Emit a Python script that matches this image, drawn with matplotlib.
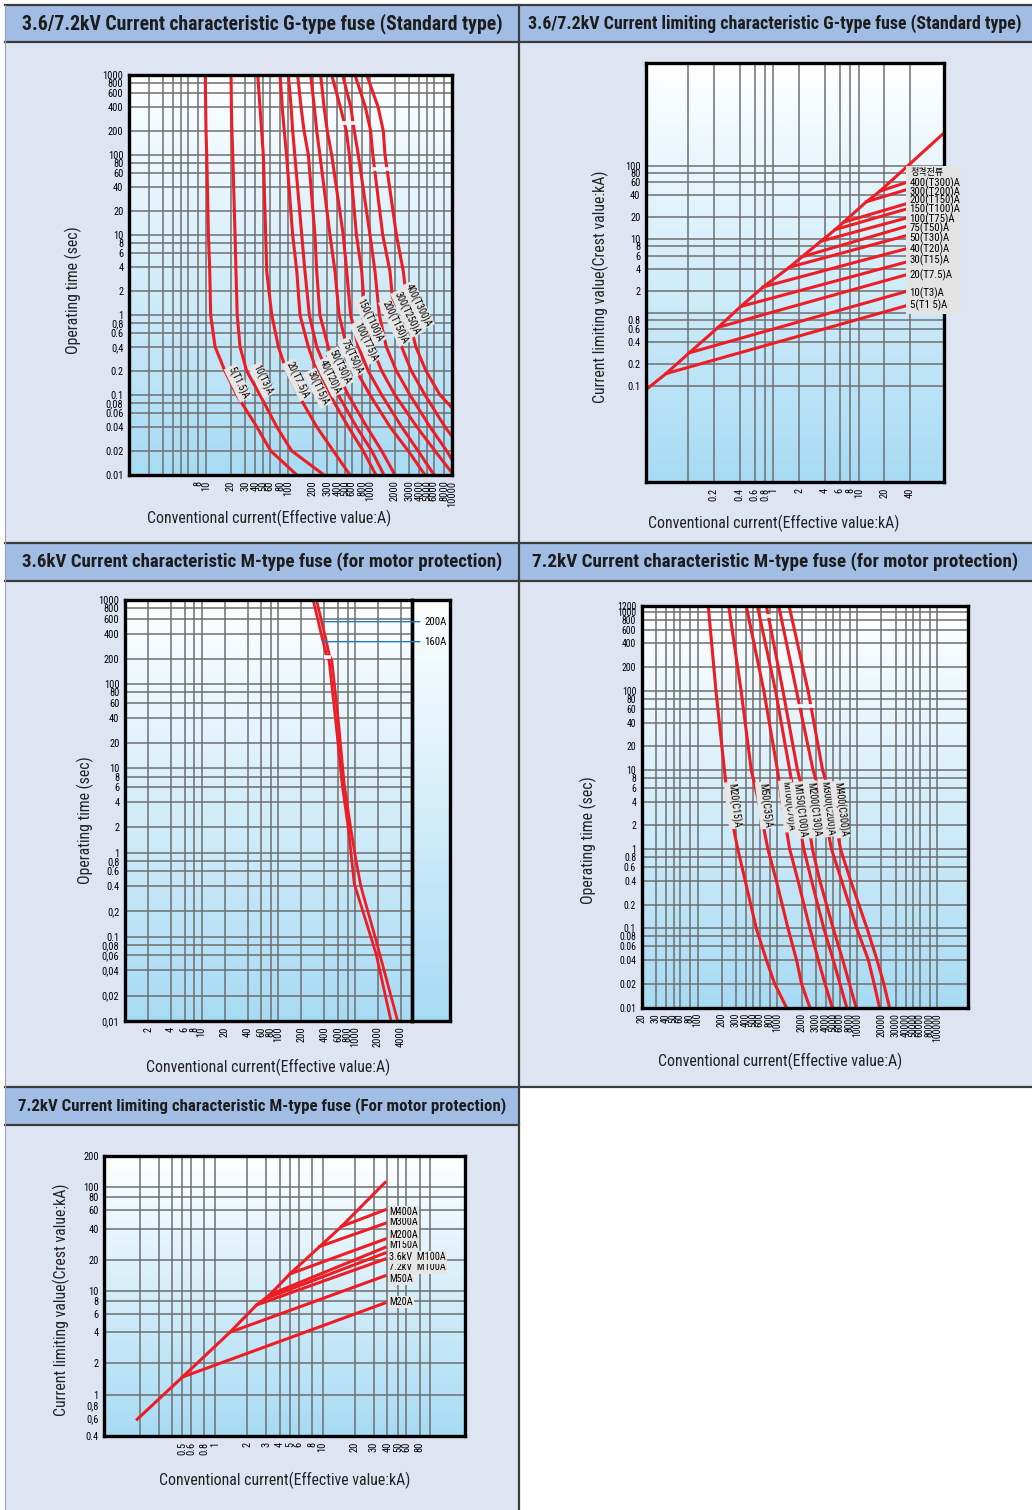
import numpy as np
import matplotlib
matplotlib.use('Agg')
import matplotlib.pyplot as plt
import matplotlib.transforms as mtransforms
from matplotlib.patches import Rectangle
from matplotlib.lines import Line2D
from matplotlib.ticker import NullFormatter
from matplotlib.colors import LinearSegmentedColormap

W, H = 1032, 1510
NARROW = ['Liberation Sans Narrow', 'Roboto Condensed', 'DejaVu Sans']
plt.rcParams['font.family'] = NARROW
RED = '#ee1d25'
GRID = '#6f6f6f'
PANEL = '#dfe4f3'
HEAD = '#a2bde4'
EDGE = '#3c3c3c'
BLUE = '#1f78c8'
TAG = '#e6e6e6'

# ---------------- panel 1 : G-type time-current ----------------
g_time = [1000, 400, 200, 100, 10, 3.5, 1, 0.4, 0.2, 0.1, 0.04, 0.02, 0.01]
g_names = ['5(T1.5)A', '10(T3)A', '20(T7.5)A', '30(T15)A', '40(T20)A', '50(T30)A',
           '75(T50)A', '100(T75)A', '150(T100)A', '200(T150)A', '300(T250)A', '400(T300)A']
g5 = [9.8, 9.9, 10.0, 10.2, 10.7, 11.1, 11.4, 12.9, 17, 23.7, 41.6, 61.6, 128]
g10 = [20.2, 20.4, 20.7, 21.2, 22.6, 23.2, 24, 26, 31.3, 45.5, 72.9, 111, 275]
g20 = [42.7, 45.5, 47.7, 50, 53.4, 55, 63.4, 76.3, 96, 134, 224, 357, 570]
g30 = [80, 85, 90, 96, 114, 128, 140, 177, 224, 325, 543, 827, 1180]
g40 = [101, 109, 114, 121, 147, 161, 182, 224, 296, 410, 683, 1050, 1480]
g50 = [131, 144, 157, 177, 213, 224, 245, 309, 392, 543, 912, 1390, 2017]
g75 = [189, 209, 224, 245, 325, 374, 420, 520, 683, 1000, 1753, 2930, 4683]
g100 = [250, 275, 301, 341, 472, 520, 580, 720, 950, 1390, 2430, 3860, 6040]
g150 = [341, 434, 514, 560, 683, 792, 868, 1050, 1390, 2017, 3720, 6200, 10500]
g200 = [464, 582, 644, 720, 1000, 1150, 1300, 1580, 2100, 3070, 5390, 8620, 13000]
g300 = [656, 877, 1018, 1083, 1430, 1753, 1960, 2430, 3190, 4683, 8210, 13500, 20000]
g400 = [912, 1254, 1453, 1523, 2100, 2550, 2930, 3620, 4820, 7140, 16500, 25000, 38000]
g_label_x = [24.6, 48.2, 129, 232, 325, 431, 603, 871, 1000, 2018, 2827, 3845]
g_label_y = [0.141, 0.154, 0.154, 0.122, 0.168, 0.224, 0.30, 0.46, 0.866, 0.818, 1.06, 1.33]
# white break marks drawn across some curves (curve index, time)
g_breaks = [(8, 250), (9, 250), (10, 67), (11, 67)]

# ---------------- panel 2 : G-type current limiting ----------------
gl_env_x = [0.032, 0.055, 0.103, 0.225, 0.413, 0.763, 1.54, 2.16, 3.61, 5.32, 6.66, 12.3, 17.7, 100]
gl_env_y = [0.09, 0.149, 0.286, 0.635, 1.22, 2.26, 4.17, 5.78, 9.42, 13.6, 17.1, 32.4, 45.1, 280]
gl_end_x = 37
gl_end_y = [1.26, 1.97, 3.32, 4.94, 7.5, 11.3, 15.1, 19.6, 26, 30.7, 47.6, 59.8]
gl_names = ['5(T1 5)A', '10(T3)A', '20(T7.5)A', '30(T15)A', '40(T20)A', '50(T30)A',
            '75(T50)A', '100(T75)A', '150(T100)A', '200(T150)A', '300(T200)A', '400(T300)A']
gl_label_y = [1.26, 1.83, 3.22, 5.2, 7.43, 10.2, 14.0, 19.0, 25.4, 34.0, 44.3, 58.7]

# ---------------- panel 3 : 3.6kV M-type time-current ----------------
m36_160_i = [285, 377, 425, 461, 565, 680, 825, 979, 1884, 2955]
m36_160_t = [1000, 341, 226, 188, 34.7, 6.5, 1.86, 0.43, 0.063, 0.01]
m36_200_i = [315, 418, 461, 500, 611, 724, 887, 1030, 1197, 1884, 3605]
m36_200_t = [1000, 341, 226, 188, 34.7, 6.5, 1.86, 0.82, 0.394, 0.091, 0.01]
m36_names = ['200A', '160A']
m36_lead_i = 377
m36_lead_t = [553, 320]
m36_break_t = 210

# ---------------- panel 4 : 7.2kV M-type time-current ----------------
m72_time = [1200, 100, 10, 4.3, 1, 0.4, 0.1, 0.04, 0.02, 0.01]
m72_names = ['M20(C15)A', 'M50(C35)A', 'M100(C70)A', 'M150(C100)A',
             'M200(C130)A', 'M300(C200)A', 'M400(C300)A']
m20 = [136, 170, 217, 238, 319, 395, 543, 725, 922, 1294]
m50 = [245, 351, 470, 570, 760, 968, 1355, 1730, 2000, 2540]
m100 = [406, 676, 1000, 1119, 1422, 1810, 2540, 3240, 3930, 4850]
m150 = [559, 948, 1422, 1645, 2140, 2670, 3800, 4980, 6050, 7350]
m200 = [725, 1172, 1780, 2200, 2740, 3390, 4980, 6550, 7940, 9640]
m300 = [1035, 1730, 2790, 3560, 4750, 6350, 9820, 13700, 16200, 18900]
m400 = [1396, 2420, 3670, 4750, 6160, 8240, 13200, 17600, 21400, 25200]
m72_label_x = [281, 690, 1355, 1900, 2800, 4220, 6050]
m72_label_y = [3.6, 3.6, 3.53, 3.12, 3.2, 3.3, 3.2]
m72_breaks = [(4, 900), (5, 65), (6, 65)]

# ---------------- panel 5 : M-type current limiting ----------------
ml_env_x = [0.19, 0.5, 1.38, 2.44, 2.91, 3.24, 4.97, 9.44, 15, 38]
ml_env_y = [0.58, 1.48, 4.0, 7.33, 8.4, 9.2, 14.6, 26.9, 41.9, 111]
ml_end_x = 38
ml_end_y = [7.67, 14, 20.3, 23.2, 26.3, 31.6, 44.8, 60.5]
ml_names = ['M20A', 'M50A', '7.2kV  M100A', '3.6kV  M100A', 'M150A', 'M200A', 'M300A', 'M400A']
ml_label_y = [7.79, 13.0, 16.9, 21.1, 27.7, 34.5, 45.8, 57.9]

# ticks
t_vals = [0.01, 0.02, 0.04, 0.06, 0.08, 0.1, 0.2, 0.4, 0.6, 0.8, 1, 2, 4, 6, 8,
          10, 20, 40, 60, 80, 100, 200, 400, 600, 800, 1000]
t_txt_g = ['0.01', '0.02', '0.04', '0.06', '0,08', '0.1', '0.2', '0,4', '0.6', '0,8', '1', '2', '4', '6', '8',
           '10', '20', '40', '60', '80', '100', '200', '400', '600', '800', '1000']
t_txt_m = ['0,01', '0,02', '0,04', '0,06', '0,08', '0.1', '0,2', '0.4', '0.6', '0,8', '1', '2', '4', '6', '8',
           '10', '20', '40', '60', '80', '100', '200', '400', '600', '800', '1000']


def fmt(v):
    return ('%g' % v)


fig = plt.figure(figsize=(W / 100, H / 100), dpi=100, facecolor='white')
sky = LinearSegmentedColormap.from_list('sky', ['#ffffff', '#a7dbf4'])
grad = np.linspace(0, 1, 256).reshape(-1, 1)


def prect(l, t, r, b, color, z=0):
    fig.add_artist(Rectangle((l / W, 1 - b / H), (r - l) / W, (b - t) / H,
                             transform=fig.transFigure, fc=color, ec='none', zorder=z))


def pline(x1, y1, x2, y2, lw=1.6, color=EDGE):
    fig.add_artist(Line2D([x1 / W, x2 / W], [1 - y1 / H, 1 - y2 / H],
                          transform=fig.transFigure, color=color, lw=lw, zorder=0.5))


def ptext(x, y, s, **kw):
    fig.text(x / W, 1 - y / H, s, **kw)


def make_axes(l, t, r, b, z=2):
    rect = [l / W, 1 - b / H, (r - l) / W, (b - t) / H]
    ax = fig.add_axes(rect, zorder=z)
    ax.patch.set_alpha(0)
    return ax


def gradient(l, t, r, b):
    bg = fig.add_axes([l / W, 1 - b / H, (r - l) / W, (b - t) / H], zorder=1)
    bg.imshow(grad, aspect='auto', cmap=sky, extent=[0, 1, 0, 1])
    bg.axis('off')


def break_mark(ax, cur, times, t, f=1.09):
    # x of the curve at time t (log interpolation) and a short white cut across it
    lt = np.log10(times)[::-1]
    lx = np.log10(cur)[::-1]
    x = 10 ** np.interp(np.log10(t), lt, lx)
    ax.plot([x / f, x * f], [t, t], color='white', lw=2.6, solid_capstyle='butt', zorder=3)


def dress(ax, xlim, ylim, xt, xt_txt, xg, yt, yt_txt, yg, size=7.5):
    ax.set_xscale('log')
    ax.set_yscale('log')
    ax.set_xticks(xg, minor=True)
    ax.set_yticks(yg, minor=True)
    ax.set_xticks(xt, labels=xt_txt, rotation=90)
    ax.set_yticks(yt, labels=yt_txt)
    ax.xaxis.set_minor_formatter(NullFormatter())
    ax.yaxis.set_minor_formatter(NullFormatter())
    ax.xaxis.remove_overlapping_locs = False
    ax.yaxis.remove_overlapping_locs = False
    ax.set_xlim(xlim)
    ax.set_ylim(ylim)
    ax.grid(which='minor', color=GRID, lw=1.1)
    ax.set_axisbelow(True)
    ax.tick_params(which='both', length=0, labelsize=size, pad=4)
    for sp in ax.spines.values():
        sp.set_linewidth(2.4)
        sp.set_color('black')


# ---------- background frame ----------
prect(5, 5, 1032, 1510, PANEL)
prect(520, 1088, 1032, 1510, 'white')
for l, t, r, b in [(5, 5, 519, 42), (519, 5, 1032, 42), (5, 543, 519, 581),
                   (519, 543, 1032, 581), (5, 1087, 519, 1125)]:
    prect(l, t, r, b, HEAD)
pline(5, 5, 1032, 5)
pline(5, 42, 1032, 42)
pline(5, 543, 1032, 543)
pline(5, 581, 1032, 581)
pline(5, 1087, 1032, 1087)
pline(5, 1125, 519, 1125)
pline(519, 5, 519, 1510)
pline(5, 5, 5, 1510, lw=0.8, color='#9aa3b8')

heads = [(262, 24, '3.6/7.2kV Current characteristic G-type fuse (Standard type)', 14.2),
         (775, 24, '3.6/7.2kV Current limiting characteristic G-type fuse (Standard type)', 12.9),
         (262, 562, '3.6kV Current characteristic M-type fuse (for motor protection)', 13.6),
         (775, 562, '7.2kV Current characteristic M-type fuse (for motor protection)', 13.8),
         (262, 1106, '7.2kV Current limiting characteristic M-type fuse (For motor protection)', 12.2)]
for x, y, s, fs in heads:
    ptext(x, y, s, ha='center', va='center', fontsize=fs, fontweight='bold', color='#1c1c1c')

lab = dict(fontsize=11.4, color='#222222', ha='center', va='center')

# ---------- panel 1 ----------
gradient(129, 75, 452, 475)
ax1 = make_axes(129, 75, 452, 475)
g_curves = [g5, g10, g20, g30, g40, g50, g75, g100, g150, g200, g300, g400]
for cur in g_curves:
    ax1.plot(cur, g_time, color=RED, lw=2.2, solid_joinstyle='round')
for k, t in g_breaks:
    break_mark(ax1, g_curves[k], g_time, t)
for x, y, s in zip(g_label_x, g_label_y, g_names):
    ax1.text(x, y, s, rotation=-64, rotation_mode='anchor', ha='center', va='center',
             fontsize=7.2, zorder=5, bbox=dict(boxstyle='square,pad=0.12', fc=TAG, ec='none'))
g_xt = [8, 10, 20, 30, 40, 50, 60, 80, 100, 200, 300, 400, 500, 600, 800,
        1000, 2000, 3000, 4000, 5000, 6000, 8000, 10000]
g_xg = [2, 3, 4, 5, 6] + g_xt
dress(ax1, (1.15, 10000), (0.01, 1000), g_xt, [fmt(v) for v in g_xt], g_xg,
      t_vals, t_txt_g, t_vals)
ptext(73, 290, 'Operating time (sec)', rotation=90, **lab)
ptext(269, 518, 'Conventional current(Effective value:A)', **lab)

# ---------- panel 2 ----------
gradient(646, 63, 944, 482)
ax2 = make_axes(646, 63, 944, 482)
ax2.plot(gl_env_x, gl_env_y, color=RED, lw=2.2, solid_joinstyle='round')
for k, ye in enumerate(gl_end_y):
    ax2.plot([gl_env_x[k + 1], gl_end_x], [gl_env_y[k + 1], ye], color=RED, lw=2.2)
ax2.add_patch(Rectangle((906 / W, 1 - 314 / H), 55 / W, 148 / H, transform=fig.transFigure,
                        fc='#e3e3e3', ec='none', zorder=5, clip_on=False))
for y, s in zip(gl_label_y, gl_names):
    ax2.text(39.5, y, s, ha='left', va='center', fontsize=7.8, zorder=6, clip_on=False)
ax2.text(41, 81.8, '정격전류', ha='left', va='center', fontsize=6.5, zorder=6, clip_on=False,
         family=['Noto Sans CJK KR', 'DejaVu Sans'])
p2_xt = [0.2, 0.4, 0.6, 0.8, 1, 2, 4, 6, 8, 10, 20, 40]
p2_yt = [0.1, 0.2, 0.4, 0.6, 0.8, 2, 4, 6, 8, 10, 20, 40, 60, 80, 100]
dress(ax2, (0.032, 100), (0.005, 2500), p2_xt, [fmt(v) for v in p2_xt], [0.1] + p2_xt,
      p2_yt, [fmt(v) for v in p2_yt], p2_yt + [1])
ptext(600, 287, 'Current limiting value(Crest value:kA)', rotation=90, **lab)
ptext(774, 523, 'Conventional current(Effective value:kA)', **lab)

# ---------- panel 3 ----------
gradient(125, 600, 450, 1021)
ax3 = make_axes(125, 600, 411.7, 1021, z=3)
ax3c = make_axes(411.7, 600, 450, 1021, z=2)
ax3c.set_xticks([])
ax3c.set_yticks([])
for sp in ax3c.spines.values():
    sp.set_linewidth(2.4)
ax3.plot(m36_160_i, m36_160_t, color=RED, lw=2.0, solid_joinstyle='round')
ax3.plot(m36_200_i, m36_200_t, color=RED, lw=2.0, solid_joinstyle='round')
break_mark(ax3, m36_160_i, m36_160_t, m36_break_t, f=1.12)
trans3 = mtransforms.blended_transform_factory(ax3.transAxes, ax3.transData)
for y, s in zip(m36_lead_t, m36_names):
    ax3.annotate(s, xy=(m36_lead_i, y), xytext=(1.043, y), textcoords=trans3,
                 ha='left', va='center', fontsize=7.8, annotation_clip=False, zorder=6,
                 arrowprops=dict(arrowstyle='-', color=BLUE, lw=1.0, shrinkA=1, shrinkB=0))
p3_xt = [2, 4, 6, 8, 10, 20, 40, 60, 80, 100, 200, 400, 600, 800, 1000, 2000, 4000]
dress(ax3, (1, 5500), (0.01, 1000), p3_xt, [fmt(v) for v in p3_xt], p3_xt,
      t_vals, t_txt_m, t_vals)
ptext(85, 820, 'Operating time (sec)', rotation=90, **lab)
ptext(268, 1067, 'Conventional current(Effective value:A)', **lab)

# ---------- panel 4 ----------
gradient(641.7, 605.7, 967.7, 1007.5)
ax4 = make_axes(641.7, 605.7, 967.7, 1007.5)
m72_curves = [m20, m50, m100, m150, m200, m300, m400]
for cur in m72_curves:
    ax4.plot(cur, m72_time, color=RED, lw=2.2, solid_joinstyle='round')
for k, t in m72_breaks:
    break_mark(ax4, m72_curves[k], m72_time, t, f=1.1)
for x, y, s in zip(m72_label_x, m72_label_y, m72_names):
    ax4.text(x, y, s, rotation=-83, rotation_mode='anchor', ha='center', va='center',
             fontsize=7.2, zorder=5, bbox=dict(boxstyle='square,pad=0.12', fc=TAG, ec='none'))
p4_xt = [20, 30, 40, 50, 60, 80, 100, 200, 300, 400, 500, 600, 800, 1000, 2000, 3000, 4000,
         5000, 6000, 8000, 10000, 20000, 30000, 40000, 50000, 60000, 80000, 100000]
p4_yt = t_vals + [1200]
p4_ytxt = [fmt(v) for v in p4_yt]
dress(ax4, (20, 240000), (0.01, 1200), p4_xt, [fmt(v) for v in p4_xt], p4_xt,
      p4_yt, p4_ytxt, p4_yt, size=7.0)
ptext(588, 840, 'Operating time (sec)', rotation=90, **lab)
ptext(780, 1061, 'Conventional current(Effective value:A)', **lab)

# ---------- panel 5 ----------
gradient(104.3, 1156, 465, 1436)
ax5 = make_axes(104.3, 1156, 465, 1436)
ax5.plot(ml_env_x, ml_env_y, color=RED, lw=2.2, solid_joinstyle='round')
for k, ye in enumerate(ml_end_y):
    ax5.plot([ml_env_x[k + 1], ml_end_x], [ml_env_y[k + 1], ye], color=RED, lw=2.2)
for y, s in zip(ml_label_y, ml_names):
    ax5.text(41.5, y, s, ha='left', va='center', fontsize=7.4, zorder=6,
             bbox=dict(boxstyle='square,pad=0.12', fc=TAG, ec='none'))
p5_xt = [0.5, 0.6, 0.8, 1, 2, 3, 4, 5, 6, 8, 10, 20, 30, 40, 50, 60, 80]
p5_xg = [0.2, 0.3, 0.4] + p5_xt + [100]
p5_yt = [0.4, 0.6, 0.8, 1, 2, 4, 6, 8, 10, 20, 40, 60, 80, 100, 200]
p5_ytxt = ['0.4', '0,6', '0,8', '1', '2', '4', '6', '8', '10', '20', '40', '60', '80', '100', '200']
dress(ax5, (0.094, 210), (0.4, 200), p5_xt, [fmt(v) for v in p5_xt], p5_xg,
      p5_yt, p5_ytxt, [1, 2, 4, 6, 8, 10, 20, 40, 60, 80, 100])
ptext(61, 1300, 'Current limiting value(Crest value:kA)', rotation=90, **lab)
ptext(285, 1480, 'Conventional current(Effective value:kA)', **lab)

fig.savefig('out.png', dpi=100, facecolor='white')
